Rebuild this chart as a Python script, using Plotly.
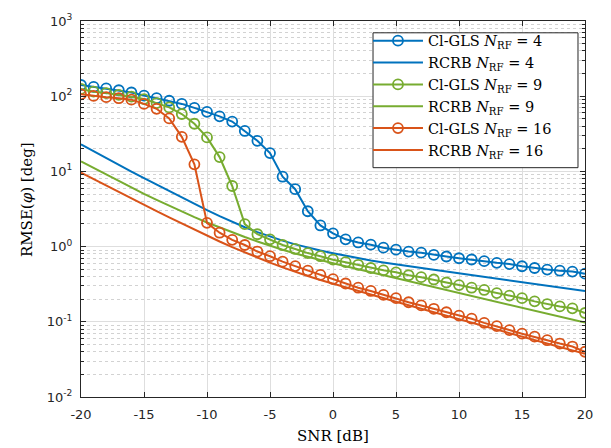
import plotly.graph_objects as go

# SNR grid in dB
snr_db = list(range(-20, 21))

# Cl-GLS estimator RMSE (deg) for each number of RF chains
clgls_nrf4 = [141, 133, 127, 120, 112, 102, 94, 87, 79, 70, 62, 54, 46, 34.5, 25.5,
              17.5, 8.5, 5.8, 2.95, 1.91, 1.50, 1.25, 1.135, 1.06, 0.968, 0.91, 0.858,
              0.83, 0.775, 0.738, 0.70, 0.674, 0.64, 0.608, 0.585, 0.548, 0.519, 0.495,
              0.478, 0.465, 0.437]
clgls_nrf9 = [125, 115, 110, 104, 99, 91.6, 81, 71, 58, 43, 28.3, 15.5, 6.4, 1.99, 1.46,
              1.25, 1.05, 0.93, 0.82, 0.745, 0.67, 0.621, 0.573, 0.519, 0.484, 0.455,
              0.416, 0.392, 0.365, 0.333, 0.308, 0.284, 0.265, 0.241, 0.223, 0.206,
              0.187, 0.172, 0.160, 0.151, 0.131]
clgls_nrf16 = [106, 101, 97, 94, 90, 79, 68, 50.6, 28.8, 12.4, 2.07, 1.53, 1.23, 1.05,
               0.86, 0.745, 0.63, 0.55, 0.48, 0.42, 0.37, 0.323, 0.284, 0.257, 0.228,
               0.206, 0.182, 0.165, 0.149, 0.134, 0.121, 0.110, 0.0968, 0.0876, 0.0776,
               0.0695, 0.0635, 0.0569, 0.0514, 0.0469, 0.040]

# Root Cramer-Rao bounds (deg)
rcrb_nrf4 = [22.9, 18.5, 15.0, 12.2, 9.95, 8.13, 6.65, 5.46, 4.49, 3.70, 3.05, 2.54,
             2.13, 1.81, 1.56, 1.36, 1.20, 1.07, 0.97, 0.887, 0.817, 0.755, 0.701,
             0.655, 0.614, 0.578, 0.547, 0.518, 0.491, 0.466, 0.442, 0.419, 0.397,
             0.377, 0.357, 0.339, 0.321, 0.303, 0.287, 0.272, 0.257]
rcrb_nrf9 = [13.55, 11.07, 9.06, 7.43, 6.11, 5.04, 4.18, 3.48, 2.92, 2.46, 2.09, 1.79,
             1.54, 1.34, 1.17, 1.02, 0.908, 0.811, 0.729, 0.661, 0.601, 0.548, 0.501,
             0.457, 0.418, 0.381, 0.348, 0.318, 0.290, 0.265, 0.242, 0.221, 0.202,
             0.184, 0.168, 0.153, 0.140, 0.128, 0.117, 0.107, 0.0977]
rcrb_nrf16 = [9.64, 7.89, 6.47, 5.31, 4.37, 3.60, 2.96, 2.45, 2.03, 1.68, 1.40, 1.17,
              0.984, 0.834, 0.711, 0.611, 0.530, 0.462, 0.406, 0.360, 0.321, 0.286,
              0.256, 0.230, 0.207, 0.185, 0.166, 0.149, 0.134, 0.120, 0.108, 0.0968,
              0.0869, 0.0782, 0.0703, 0.0632, 0.0569, 0.0513, 0.0462, 0.0417, 0.0376]

y_tick_vals = [0.01, 0.1, 1, 10, 100, 1000]
y_tick_text = ["10<sup>-2</sup>", "10<sup>-1</sup>", "10<sup>0</sup>",
               "10<sup>1</sup>", "10<sup>2</sup>", "10<sup>3</sup>"]
x_tick_vals = [-20, -15, -10, -5, 0, 5, 10, 15, 20]

BLUE = "#0072BD"
GREEN = "#77AC30"
ORANGE = "#D95319"
INK = "#262626"
SERIF = "DejaVu Serif"
SANS = "DejaVu Sans"

series = [
    ("Cl-GLS <i>N</i><sub>RF</sub> = 4", clgls_nrf4, BLUE, True),
    ("RCRB <i>N</i><sub>RF</sub> = 4", rcrb_nrf4, BLUE, False),
    ("Cl-GLS <i>N</i><sub>RF</sub> = 9", clgls_nrf9, GREEN, True),
    ("RCRB <i>N</i><sub>RF</sub> = 9", rcrb_nrf9, GREEN, False),
    ("Cl-GLS <i>N</i><sub>RF</sub> = 16", clgls_nrf16, ORANGE, True),
    ("RCRB <i>N</i><sub>RF</sub> = 16", rcrb_nrf16, ORANGE, False),
]

fig = go.Figure()
for name, vals, color, with_markers in series:
    fig.add_trace(go.Scatter(
        x=snr_db, y=vals, name=name,
        mode="lines+markers" if with_markers else "lines",
        line=dict(color=color, width=2),
        marker=dict(symbol="circle-open", size=10, color=color,
                    line=dict(color=color, width=1.8)),
        hoverinfo="skip",
    ))

# Framed white panel behind the legend entries (tighter than plotly's own padding)
fig.add_shape(type="rect", xref="paper", yref="paper",
              x0=0.5794, x1=0.9861, y0=0.6099, y1=0.9686,
              fillcolor="white", line=dict(color=INK, width=1), layer="above")

fig.update_layout(
    width=611, height=448,
    margin=dict(l=81, r=26, t=15, b=51),
    paper_bgcolor="white", plot_bgcolor="white",
    showlegend=True,
    legend=dict(
        x=0.5694, y=0.990, xanchor="left", yanchor="top",
        bgcolor="rgba(0,0,0,0)", borderwidth=0,
        font=dict(family=SERIF, size=14.5, color="black"),
        itemwidth=50,
    ),
    xaxis=dict(
        range=[-20, 20], tickvals=x_tick_vals, ticktext=[str(v) for v in x_tick_vals],
        ticks="inside", ticklen=5, tickcolor=INK, tickwidth=1,
        showline=True, linecolor=INK, linewidth=1, mirror="ticks",
        showgrid=True, gridcolor="#dedede", gridwidth=1,
        zeroline=False,
        tickfont=dict(family=SANS, size=13, color=INK),
        ticklabelstandoff=5,
    ),
    yaxis=dict(
        type="log", range=[-2, 3],
        tickvals=y_tick_vals, ticktext=y_tick_text,
        ticks="inside", ticklen=5, tickcolor=INK, tickwidth=1,
        showline=True, linecolor=INK, linewidth=1, mirror="ticks",
        showgrid=True, gridcolor="#dedede", gridwidth=1,
        zeroline=False,
        tickfont=dict(family=SANS, size=13, color=INK),
        ticklabelstandoff=5,
        minor=dict(dtick="D1", ticks="inside", ticklen=3, tickcolor=INK,
                   showgrid=True, gridcolor="#d2d2d2", griddash="dot", gridwidth=1),
    ),
    annotations=[
        dict(text="SNR [dB]", xref="paper", yref="paper", x=0.5, y=-0.105,
             xanchor="center", yanchor="middle", showarrow=False,
             font=dict(family=SERIF, size=15, color="black")),
        dict(text="RMSE(<i>φ</i>) [deg]", xref="paper", yref="paper",
             x=-0.107, y=0.524, xanchor="center", yanchor="middle",
             textangle=-90, showarrow=False,
             font=dict(family=SERIF, size=15, color="black")),
    ],
)

fig.write_html("out.html", config={"displayModeBar": False})
